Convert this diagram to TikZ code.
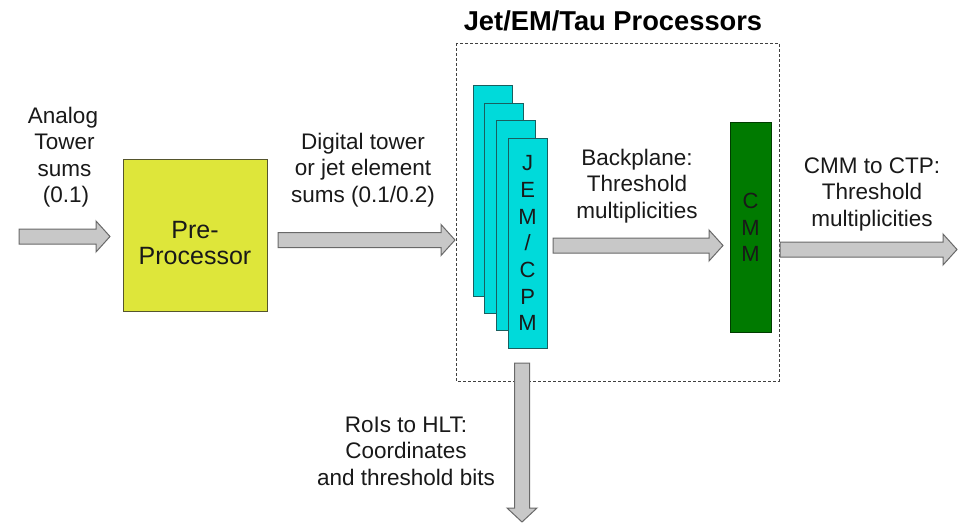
\documentclass[tikz,border=0pt]{standalone}
\usepackage{fontspec}
\setmainfont{Liberation Sans}
\usetikzlibrary{calc}

\definecolor{arrowfill}{RGB}{200,200,200}
\definecolor{arrowline}{RGB}{105,105,105}
\definecolor{prefill}{RGB}{222,230,58}
\definecolor{preline}{RGB}{85,85,45}
\definecolor{cardfill}{RGB}{0,218,218}
\definecolor{cardline}{RGB}{25,95,95}
\definecolor{cmmfill}{RGB}{0,122,0}
\definecolor{cmmline}{RGB}{0,60,0}
\definecolor{txt}{RGB}{25,25,25}

% horizontal block arrow from #1 to #2 (tip at #2)
\newcommand{\hblockarrow}[2]{%
  \draw[blockarrow] let \p1=(#1), \p2=(#2) in
    (\x1,{\y1+7.5pt}) -- ({\x2-14pt},{\y1+7.5pt}) -- ({\x2-14pt},{\y1+15.5pt})
    -- (\x2,\y1) -- ({\x2-14pt},{\y1-15.5pt}) -- ({\x2-14pt},{\y1-7.5pt})
    -- (\x1,{\y1-7.5pt}) -- cycle;}
% vertical block arrow pointing down from #1 to #2
\newcommand{\vblockarrow}[2]{%
  \draw[blockarrow] let \p1=(#1), \p2=(#2) in
    ({\x1-7.5pt},\y1) -- ({\x1-7.5pt},{\y2+14pt}) -- ({\x1-15pt},{\y2+14pt})
    -- (\x1,\y2) -- ({\x1+15pt},{\y2+14pt}) -- ({\x1+7.5pt},{\y2+14pt})
    -- ({\x1+7.5pt},\y1) -- cycle;}

\begin{document}
\begin{tikzpicture}[x=1pt,y=-1pt,
  blockarrow/.style={fill=arrowfill, draw=arrowline, line width=1pt, line join=miter},
  label/.style={align=center, text=txt, inner sep=0pt,
    font=\fontsize{22.5}{26.5}\selectfont},
  prebox/.style={draw=preline, fill=prefill, line width=1pt, inner sep=0pt,
    minimum width=144pt, minimum height=152pt},
  cardbox/.style={draw=cardline, fill=cardfill, line width=1pt, inner sep=0pt,
    minimum width=39pt, minimum height=210pt},
  cmmbox/.style={draw=cmmline, fill=cmmfill, line width=1pt, inner sep=0pt,
    minimum width=41pt, minimum height=209pt},
  stacktext/.style={align=center, text=txt, inner sep=0pt,
    font=\fontsize{22}{26.7}\selectfont},
  groupbox/.style={draw=black!75, dash pattern=on 3pt off 2pt, line width=0.8pt}
]
\useasboundingbox (0,0) rectangle (969,524);
\fill[white] (0,0) rectangle (969,524);

% processor group
\draw[groupbox] (456,43) rectangle (779,381);
\node[font=\bfseries\fontsize{27.3}{30}\selectfont, inner sep=0pt] (title) at (613,21) {Jet/EM/Tau Processors};

% pre-processor
\node[prebox] (pre) at (195,235) {};
\node[label, font=\fontsize{25}{26}\selectfont] (pretext) at (195,243) {Pre-\\Processor};

% stacked JEM/CPM modules, front one labelled
\foreach \i in {0,...,3}{
  \node[cardbox] (card\i) at ({492.5+11.7*\i},{191+17.4*\i}) {};
}
\node[stacktext] (cardtext) at (card3.center) {J\\E\\M\\/\\C\\P\\M};

% CMM
\node[cmmbox] (cmm) at (750.5,227.5) {};
\node[stacktext, font=\fontsize{22}{26.5}\selectfont] (cmmtext) at (cmm.center) {C\\M\\M};

% arrow end points
\coordinate (analogA) at (19,236.5);
\coordinate (analogB) at (110,236.5);
\coordinate (digitalA) at (278,240);
\coordinate (digitalB) at (455,240);
\coordinate (backA) at (553,245.5);
\coordinate (backB) at (723,245.5);
\coordinate (ctpA) at (780,249.5);
\coordinate (ctpB) at (957,249.5);
\coordinate (hltA) at (522,363);
\coordinate (hltB) at (522,522);

\hblockarrow{analogA}{analogB}
\hblockarrow{digitalA}{digitalB}
\hblockarrow{backA}{backB}
\hblockarrow{ctpA}{ctpB}
\vblockarrow{hltA}{hltB}

% labels
\node[label] (analogtext) at (63,157) {Analog\\\hspace*{3pt}Tower\\\hspace*{3pt}sums\\\hspace*{6pt}(0.1)};
\node[label] (digitaltext) at (363,170) {Digital tower\\or jet element\\sums (0.1/0.2)};
\node[label] (backtext) at (637,186) {Backplane:\\Threshold\\multiplicities};
\node[label] (ctptext) at (872,194) {CMM to CTP:\\Threshold\\multiplicities};
\node[label] (hlttext) at (406,451) {RoIs to HLT:\\Coordinates\\and threshold bits};
\end{tikzpicture}
\end{document}
